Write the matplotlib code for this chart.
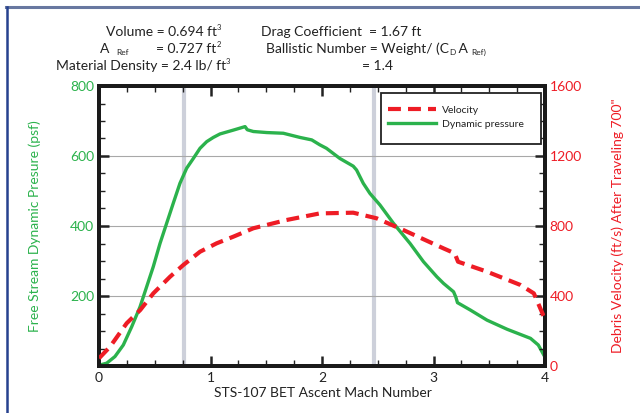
import matplotlib

matplotlib.use("Agg")
import matplotlib.pyplot as plt
from matplotlib.lines import Line2D
from matplotlib.patches import Rectangle
from matplotlib.ticker import MultipleLocator

plt.rcParams["font.family"] = ["Lato", "DejaVu Sans"]

GREEN = "#2bb24c"
RED = "#ee1c25"
INK = "#222222"
W, H = 640, 413

# Free stream dynamic pressure (psf) vs Mach
mach_q = [0.009, 0.069, 0.143, 0.218, 0.293, 0.368, 0.428, 0.487, 0.547, 0.607,
          0.666, 0.726, 0.786, 0.846, 0.906, 0.966, 1.025, 1.085, 1.205, 1.31,
          1.33, 1.384, 1.504, 1.653, 1.803, 1.908, 1.98, 2.04, 2.16, 2.28,
          2.31, 2.37, 2.43, 2.52, 2.64, 2.79, 2.91, 3.03, 3.09, 3.18, 3.20,
          3.215, 3.33, 3.48, 3.66, 3.87, 3.94, 3.99]
dyn_pressure = [3, 8, 27, 60, 112, 169, 227, 284, 350, 408,
                465, 522, 565, 593, 622, 641, 653, 663, 674, 684,
                675, 670, 667, 665, 653, 646, 632, 622, 593, 571,
                560, 522, 493, 460, 408, 350, 298, 255, 236, 212, 197,
                181, 160, 131, 105, 79, 60, 31]

# Debris velocity (ft/s) after travelling 700 in
mach_v = [0.0, 0.099, 0.248, 0.37, 0.487, 0.637, 0.756, 0.906, 1.055, 1.205,
          1.384, 1.68, 1.98, 2.28, 2.49, 2.73, 3.09, 3.19, 3.22, 3.48, 3.78,
          3.90, 3.99]
velocity = [44, 110, 244, 320, 415, 510, 577, 653, 701, 739,
            787, 834, 872, 876, 844, 777, 672, 644, 596, 539, 463,
            415, 282]

marker_mach = [0.76, 2.47]

fig = plt.figure(figsize=(W / 100, H / 100), dpi=100)
ax = fig.add_axes([99 / W, 1 - 366 / H, 446 / W, 280 / H])
ax2 = ax.twinx()

for m in marker_mach:
    ax.axvline(m, color="#cdd0da", lw=3, zorder=1)
for yv in (200, 400, 600):
    ax.axhline(yv, color="#a8a8a8", lw=0.8, zorder=1)

DASH = (0, (3.1, 1.7))
ax.plot(mach_q, dyn_pressure, color=GREEN, lw=2.4, zorder=3)
ax2.plot(mach_v, velocity, color=RED, lw=3.0, ls=DASH, zorder=3)

ax.set_xlim(0, 4)
ax.set_ylim(0, 800)
ax2.set_ylim(0, 1600)

ax.xaxis.set_major_locator(MultipleLocator(1))
ax.xaxis.set_minor_locator(MultipleLocator(0.25))
ax.yaxis.set_minor_locator(MultipleLocator(50))
ax2.yaxis.set_major_locator(MultipleLocator(400))
ax2.yaxis.set_minor_locator(MultipleLocator(100))
ax.set_yticks([200, 400, 600, 800])

ax.tick_params(axis="x", which="both", direction="in", top=True,
               colors=INK, labelcolor=INK, labelsize=10, pad=4)
ax.tick_params(axis="y", which="both", direction="in", colors=INK,
               labelcolor=GREEN, labelsize=10)
ax2.tick_params(axis="y", which="both", direction="in", colors=INK,
                labelcolor=RED, labelsize=10)
for a in (ax, ax2):
    a.tick_params(which="major", length=7, width=1.8)
    a.tick_params(which="minor", length=4, width=1)
    for s in a.spines.values():
        s.set_linewidth(2.8)
        s.set_color("#1a1a1a")

ax.set_xlabel("STS-107 BET Ascent Mach Number", color=INK, fontsize=10)
ax.xaxis.set_label_coords(0.502, -0.075)
ax.set_ylabel("Free Stream Dynamic Presure (psf)", color=GREEN, fontsize=10)
ax.yaxis.set_label_coords(-0.13, 0.5)
ax2.set_ylabel('Debris Velocity (ft/s) After Traveling 700"', color=RED,
               fontsize=10)
ax2.yaxis.set_label_coords(1.15, 0.5)

# legend box drawn by hand so the padding can be set freely
box = Rectangle((0.632, 0.793), 0.359, 0.182, transform=ax.transAxes,
                facecolor="white", edgecolor=INK, lw=1.3, zorder=9)
ax2.add_patch(box)
handles = [
    Line2D([], [], color=RED, lw=3.0, ls=DASH),
    Line2D([], [], color=GREEN, lw=2.4),
]
leg = ax2.legend(handles, ["Velocity", "Dynamic pressure"], loc="upper left",
                 bbox_to_anchor=(0.648, 0.93), borderaxespad=0, borderpad=0,
                 fontsize=7.5, frameon=False, handlelength=4.6,
                 handletextpad=0.6, labelspacing=0.45)
leg.set_zorder(10)
for t in leg.get_texts():
    t.set_color(INK)

# header block of debris properties, set in runs so sub/superscripts stay small
renderer = fig.canvas.get_renderer()


def put_runs(x_px, y_px, runs, size=10):
    x = x_px
    for text, kind in runs:
        fs, dy = size, 0
        if kind == "sup":
            fs, dy = size * 0.55, 6
        elif kind == "sub":
            fs, dy = size * 0.6, -2
        t = fig.text(x / W, 1 - (y_px - dy) / H, text, fontsize=fs,
                     color=INK, ha="left", va="baseline")
        x += t.get_window_extent(renderer).width
    return x


put_runs(106, 36, [("Volume = 0.694 ft", "n"), ("3", "sup")])
put_runs(100, 53, [("A", "n")])
put_runs(116, 53, [("Ref", "sub")])
put_runs(156, 53, [("= 0.727 ft", "n"), ("2", "sup")])
put_runs(56, 70, [("Material Density = 2.4 lb/ ft", "n"), ("3", "sup")])
put_runs(261, 36, [("Drag Coefficient  = 1.67 ft", "n")])
put_runs(266, 53, [("Ballistic Number = Weight/ (C", "n"), ("D", "sub"),
                   (" A ", "n"), ("Ref)", "sub")])
put_runs(362, 70, [("= 1.4", "n")])

# outer frame
fig.add_artist(Line2D([0.009, 1.0], [0.983, 0.983], color="#6878a0", lw=2.2,
                      transform=fig.transFigure))
fig.add_artist(Line2D([0.0105, 0.0105], [0.0, 0.983], color="#26418f", lw=1.8,
                      transform=fig.transFigure))

fig.savefig("out.png", dpi=100)
